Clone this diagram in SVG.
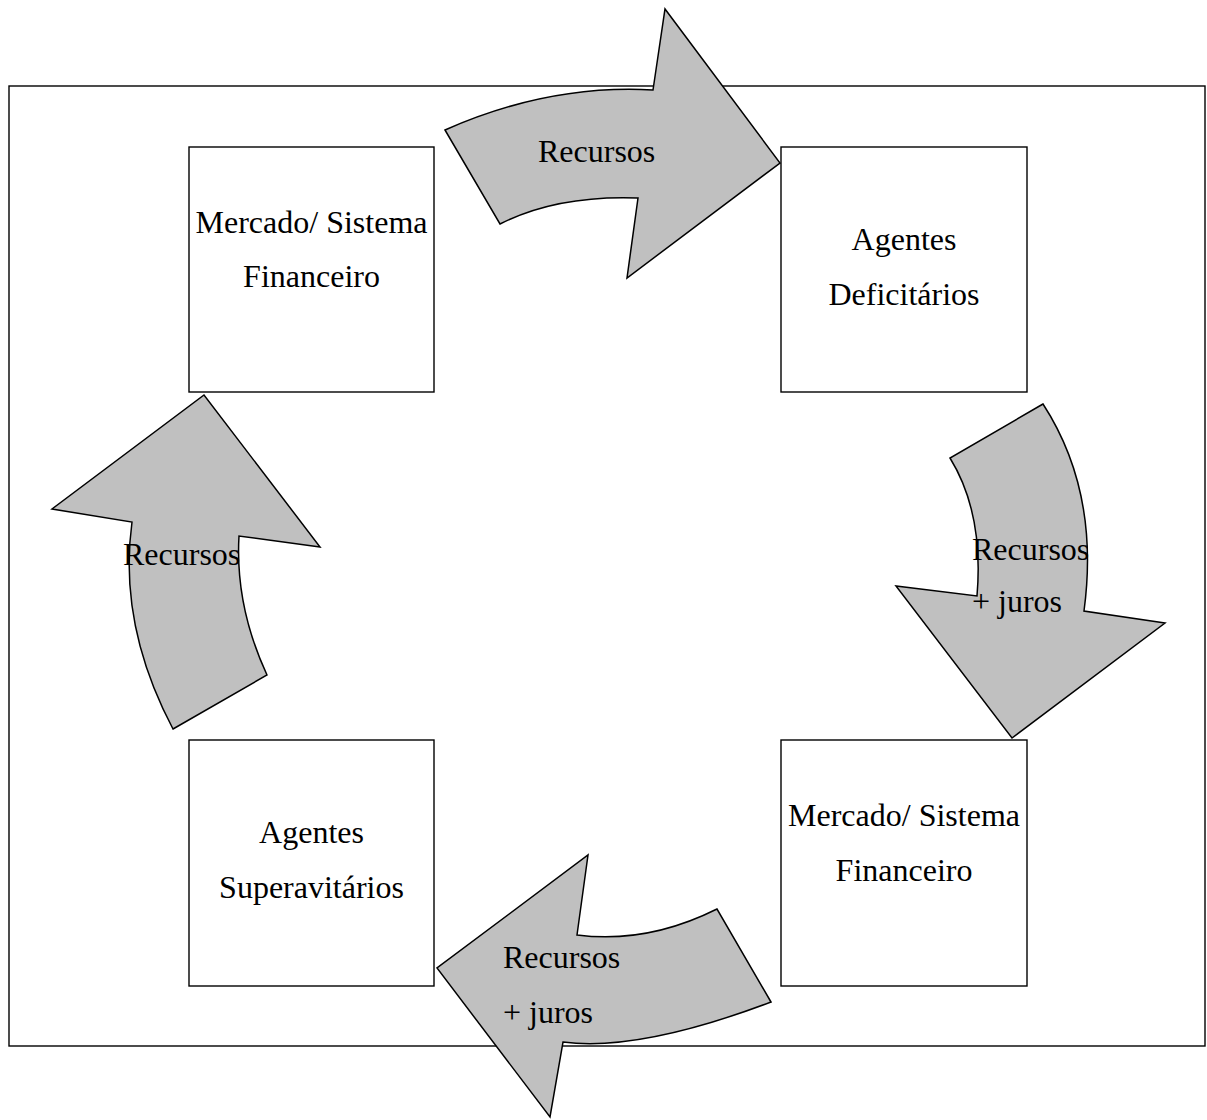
<svg xmlns="http://www.w3.org/2000/svg" width="1207" height="1120" viewBox="0 0 1207 1120">
<style>
.frame{fill:none;stroke:#000;stroke-width:1.4}
.box{fill:#fff;stroke:#000;stroke-width:1.4}
.arrow{fill:#c0c0c0;stroke:#000;stroke-width:1.5;stroke-linejoin:miter}
text{font-family:"Liberation Serif","Times New Roman",serif;font-size:32px;fill:#000}
.c{text-anchor:middle}
</style>
<rect width="1207" height="1120" fill="#fff"/>
<rect class="frame" x="9" y="86" width="1196" height="960"/>
<g id="node-mercado-top">
<rect class="box" x="189" y="147" width="245" height="245"/>
<text class="c" x="311.5" y="233">Mercado/ Sistema</text>
<text class="c" x="311.5" y="287">Financeiro</text>
</g>
<g id="node-deficitarios">
<rect class="box" x="781" y="147" width="246" height="245"/>
<text class="c" x="904" y="250">Agentes</text>
<text class="c" x="904" y="305">Deficitários</text>
</g>
<g id="node-mercado-bottom">
<rect class="box" x="781" y="740" width="246" height="246"/>
<text class="c" x="904" y="826">Mercado/ Sistema</text>
<text class="c" x="904" y="881">Financeiro</text>
</g>
<g id="node-superavitarios">
<rect class="box" x="189" y="740" width="245" height="246"/>
<text class="c" x="311.5" y="843">Agentes</text>
<text class="c" x="311.5" y="898">Superavitários</text>
</g>
<g id="connectors">
<g id="arrow-top">
<path class="arrow" d="M445,130 Q549,84 653,90 L665,9 L780,163 L627,278 L638,198 Q557,195 500,224 Z"/>
<text x="538" y="162">Recursos</text>
</g>
<g id="arrow-right">
<path class="arrow" d="M1043,404 L950,458 Q984,513 977,596 L896,586 L1012,738 L1165,623 L1084,611 Q1100,492 1043,404 Z"/>
<text x="972" y="560">Recursos</text>
<text x="972" y="612">+ juros</text>
</g>
<g id="arrow-bottom">
<path class="arrow" d="M771,1002 L717,909 Q647,944 577,935 L588,855 L437,968 L550,1117 L563,1042 Q639,1052 771,1002 Z"/>
<text x="503" y="968">Recursos</text>
<text x="503" y="1023">+ juros</text>
</g>
<g id="arrow-left">
<path class="arrow" d="M173,729 L267,675 Q235,606 239,536 L320,547 L204,395 L52,509 L132,522 Q118,625 173,729 Z"/>
<text x="123" y="565">Recursos</text>
</g>
</g>
</svg>
